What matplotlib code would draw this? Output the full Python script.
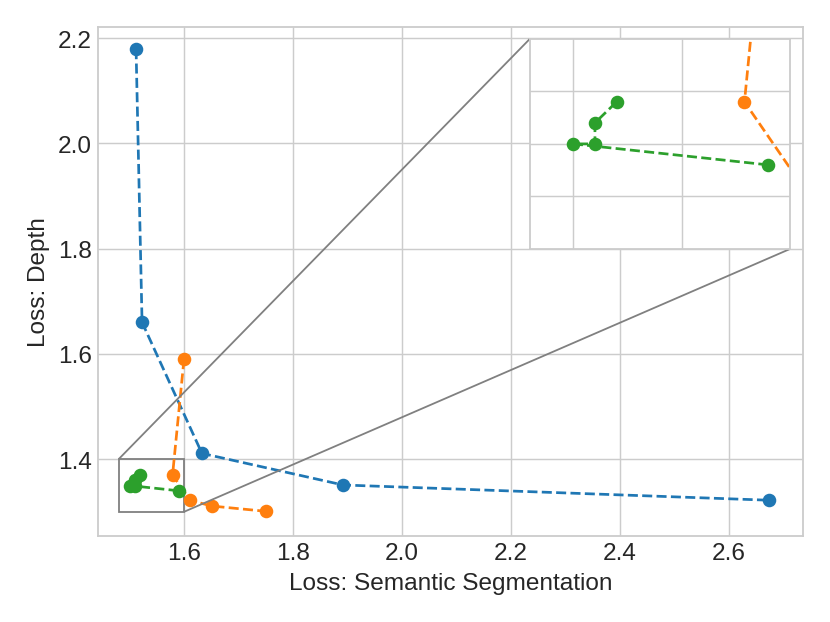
import numpy as np
import matplotlib
matplotlib.use("Agg")
import matplotlib.pyplot as plt
from mpl_toolkits.axes_grid1.inset_locator import mark_inset

plt.style.use("seaborn-v0_8-whitegrid")
plt.rcParams['font.family'] = ['Liberation Sans', 'DejaVu Sans']

# Pareto fronts (semantic loss, depth loss)
blue_x = [1.512, 1.523, 1.633, 1.892, 2.675]
blue_y = [2.179, 1.660, 1.411, 1.351, 1.322]

orange_x = [1.600, 1.579, 1.611, 1.651, 1.750]
orange_y = [1.590, 1.370, 1.322, 1.311, 1.301]

green_x = [1.590, 1.500, 1.510, 1.510, 1.520]
green_y = [1.340, 1.350, 1.350, 1.360, 1.370]

series = [(blue_x, blue_y, "#1f77b4"),
          (orange_x, orange_y, "#ff7f0e"),
          (green_x, green_y, "#2ca02c")]

fig = plt.figure(figsize=(6.385, 4.792), dpi=130)
ax = fig.add_axes([0.118, 0.138, 0.849, 0.817])

for xs, ys, c in series:
    ax.plot(xs, ys, "o--", color=c, markersize=6.5, linewidth=1.5)

ax.set_xlim(1.442, 2.736)
ax.set_ylim(1.254, 2.221)
ax.set_xticks([1.6, 1.8, 2.0, 2.2, 2.4, 2.6])
ax.set_yticks([1.4, 1.6, 1.8, 2.0, 2.2])
ax.tick_params(labelsize=13.5, colors="#262626")
ax.set_xlabel("Loss: Semantic Segmentation", fontsize=13.5, color="#262626")
ax.set_ylabel("Loss: Depth", fontsize=13.5, color="#262626")
for s in ax.spines.values():
    s.set_color("#cccccc")
    s.set_linewidth(1.0)

# zoomed inset
axins = ax.inset_axes([0.613, 0.564, 0.369, 0.413])
for xs, ys, c in series:
    axins.plot(xs, ys, "o--", color=c, markersize=6.5, linewidth=1.5)
axins.set_xlim(1.48, 1.60)
axins.set_ylim(1.30, 1.40)
axins.set_xticks([1.5, 1.55])
axins.set_yticks([1.325, 1.35, 1.375])
axins.set_xticklabels([])
axins.set_yticklabels([])
axins.tick_params(length=0)
for s in axins.spines.values():
    s.set_color("#cccccc")
    s.set_linewidth(1.0)

mark_inset(ax, axins, loc1=2, loc2=4, fc="none", ec="0.5", lw=1.0)

fig.savefig("out.png", dpi=130)
